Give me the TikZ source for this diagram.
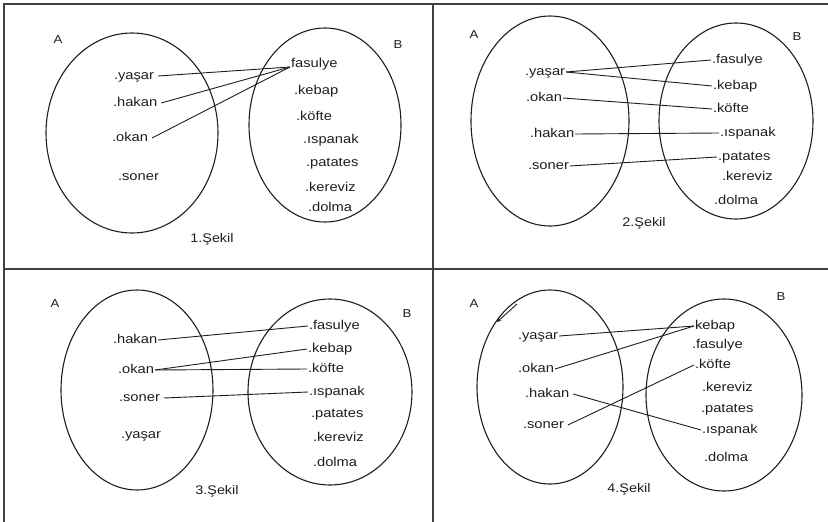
\documentclass[tikz,border=0pt]{standalone}
\usepackage{fontspec}
\usepackage{tikz}
\usetikzlibrary{arrows}
\newfontfamily\lblfont[FakeStretch=1.15]{Liberation Sans}
\definecolor{inkgray}{RGB}{30,30,30}
\tikzstyle{elm} = [inner sep=0.8pt, anchor=west, text height=9pt, text depth=3pt, font=\lblfont\fontsize{12.8}{14}\selectfont, text=inkgray]
\tikzstyle{setlbl} = [inner sep=0pt, font=\lblfont\fontsize{11.5}{13}\selectfont, text=inkgray]
\tikzstyle{caption} = [inner sep=0pt, font=\lblfont\fontsize{12.5}{14}\selectfont, text=inkgray]
\tikzstyle{link} = [draw=inkgray, line width=0.9pt]
\tikzstyle{setring} = [draw=inkgray, line width=1.1pt]
\tikzstyle{frame} = [draw=black!75, line width=1.6pt]

\begin{document}
\begin{tikzpicture}[x=1pt, y=-1pt]
    \useasboundingbox (0,0) rectangle (828,522);
    % table lines
    \draw [frame] (828,4) -- (4,4) -- (4,522);
    \draw [frame] (433,4) -- (433,522);
    \draw [frame] (4,269) -- (828,269);

    % 1. Sekil
    \draw [setring] (132,133) ellipse [x radius=86, y radius=100];
    \draw [setring] (325,125) ellipse [x radius=76, y radius=97];
    \node [setlbl] (a1) at (58,40) {A};
    \node [setlbl] (b1) at (398,45) {B};
    \node [elm] (yasar1) at (113,76) {.yaşar};
    \node [elm] (hakan1) at (112,103) {.hakan};
    \node [elm] (okan1) at (111,138) {.okan};
    \node [elm] (soner1) at (117,177) {.soner};
    \node [elm] (fasulye1) at (290,64) {fasulye};
    \node [elm] (kebap1) at (293,91) {.kebap};
    \node [elm] (kofte1) at (295,117) {.köfte};
    \node [elm] (ispanak1) at (302,140) {.ıspanak};
    \node [elm] (patates1) at (305,163) {.patates};
    \node [elm] (kereviz1) at (304,188) {.kereviz};
    \node [elm] (dolma1) at (307,208) {.dolma};
    \node [caption] (cap1) at (212,239) {1.Şekil};
    \draw [link] ([xshift=3pt]yasar1.east) -- ([yshift=-3pt]fasulye1.west);
    \draw [link] ([xshift=3pt]hakan1.east) -- ([yshift=-3pt]fasulye1.west);
    \draw [link] ([xshift=3pt]okan1.east) -- ([yshift=-3pt]fasulye1.west);

    % 2. Sekil
    \draw [setring] (550,121) ellipse [x radius=79, y radius=105];
    \draw [setring] (736,121) ellipse [x radius=77, y radius=98];
    \node [setlbl] (a2) at (474,35) {A};
    \node [setlbl] (b2) at (797,37) {B};
    \node [elm] (yasar2) at (524,72) {.yaşar};
    \node [elm] (okan2) at (525,98) {.okan};
    \node [elm] (hakan2) at (529,134) {.hakan};
    \node [elm] (soner2) at (527,166) {.soner};
    \node [elm] (fasulye2) at (711,60) {.fasulye};
    \node [elm] (kebap2) at (712,86) {.kebap};
    \node [elm] (kofte2) at (712,109) {.köfte};
    \node [elm] (ispanak2) at (719,133) {.ıspanak};
    \node [elm] (patates2) at (717,157) {.patates};
    \node [elm] (kereviz2) at (721,177) {.kereviz};
    \node [elm] (dolma2) at (713,201) {.dolma};
    \node [caption] (cap2) at (644,223) {2.Şekil};
    \draw [link] (yasar2.east) -- (fasulye2.west);
    \draw [link] (yasar2.east) -- (kebap2.west);
    \draw [link] (okan2.east) -- (kofte2.west);
    \draw [link] (hakan2.east) -- (ispanak2.west);
    \draw [link] (soner2.east) -- (patates2.west);

    % 3. Sekil
    \draw [setring] (137,390) ellipse [x radius=76, y radius=100];
    \draw [setring] (330,392) ellipse [x radius=82, y radius=93];
    \node [setlbl] (a3) at (55,304) {A};
    \node [setlbl] (b3) at (407,314) {B};
    \node [elm] (hakan3) at (112,340) {.hakan};
    \node [elm] (okan3) at (117,370) {.okan};
    \node [elm] (soner3) at (118,398) {.soner};
    \node [elm] (yasar3) at (120,435) {.yaşar};
    \node [elm] (fasulye3) at (308,326) {.fasulye};
    \node [elm] (kebap3) at (307,349) {.kebap};
    \node [elm] (kofte3) at (307,369) {.köfte};
    \node [elm] (ispanak3) at (308,392) {.ıspanak};
    \node [elm] (patates3) at (310,414) {.patates};
    \node [elm] (kereviz3) at (312,438) {.kereviz};
    \node [elm] (dolma3) at (312,463) {.dolma};
    \node [caption] (cap3) at (217,491) {3.Şekil};
    \draw [link] (hakan3.east) -- (fasulye3.west);
    \draw [link] (okan3.east) -- (kebap3.west);
    \draw [link] (okan3.east) -- (kofte3.west);
    \draw [link] ([xshift=3pt]soner3.east) -- (ispanak3.west);

    % 4. Sekil
    \draw [setring] (550,387) ellipse [x radius=73, y radius=97];
    \draw [setring] (724,395) ellipse [x radius=78, y radius=96];
    \node [setlbl] (a4) at (474,304) {A};
    \node [setlbl] (b4) at (781,297) {B};
    \coordinate (tick4a) at (517,304);
    \coordinate (tick4b) at (497,322);
    \draw [link, ->, >=stealth] (tick4a) -- (tick4b);
    \node [elm] (yasar4) at (517,336) {.yaşar};
    \node [elm] (okan4) at (517,369) {.okan};
    \node [elm] (hakan4) at (524,394) {.hakan};
    \node [elm] (soner4) at (522,425) {.soner};
    \node [elm] (kebap4) at (694,326) {kebap};
    \node [elm] (fasulye4) at (691,345) {.fasulye};
    \node [elm] (kofte4) at (694,365) {.köfte};
    \node [elm] (kereviz4) at (701,388) {.kereviz};
    \node [elm] (patates4) at (700,409) {.patates};
    \node [elm] (ispanak4) at (701,430) {.ıspanak};
    \node [elm] (dolma4) at (703,458) {.dolma};
    \node [caption] (cap4) at (629,489) {4.Şekil};
    \draw [link] (yasar4.east) -- (kebap4.west);
    \draw [link] (okan4.east) -- (kebap4.west);
    \draw [link] ([xshift=3pt]hakan4.east) -- (ispanak4.west);
    \draw [link] ([xshift=3pt]soner4.east) -- (kofte4.west);
\end{tikzpicture}
\end{document}
